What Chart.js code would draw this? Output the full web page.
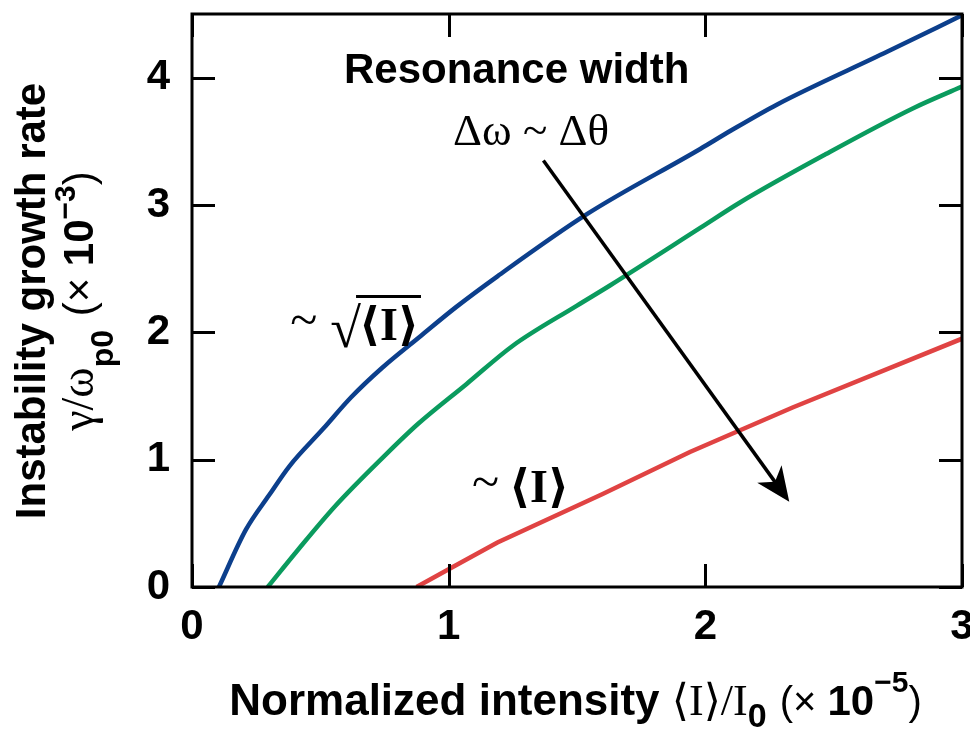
<!DOCTYPE html>
<html><head><meta charset="utf-8">
<script src="https://cdn.jsdelivr.net/npm/chart.js@4/dist/chart.umd.min.js"></script>
<style>html,body{margin:0;padding:0;background:#fff}canvas{display:block}</style>
</head><body>
<canvas id="c" width="970" height="733"></canvas>
<script>
// ---- data ----
const xTicks = [0, 1, 2, 3];
const yTicks = [0, 1, 2, 3, 4];
const xTickLabels = ['0', '1', '2', '3'];
const yTickLabels = ['0', '1', '2', '3', '4'];

const blueX = [0.105, 0.21, 0.30, 0.38, 0.51, 0.62, 0.74, 0.89, 1.03, 1.19, 1.54, 1.98, 2.10, 2.28, 2.71, 3.00];
const blueY = [0.00, 0.45, 0.72, 0.95, 1.24, 1.49, 1.72, 1.97, 2.20, 2.44, 2.93, 3.44, 3.585, 3.79, 4.205, 4.49];

const greenX = [0.295, 0.41, 0.56, 0.75, 0.88, 1.07, 1.25, 1.50, 1.63, 1.98, 2.135, 2.47, 2.81, 3.00];
const greenY = [0.00, 0.285, 0.64, 1.03, 1.28, 1.595, 1.895, 2.21, 2.37, 2.82, 3.02, 3.40, 3.76, 3.93];

const redX = [0.875, 1.00, 1.19, 1.60, 1.94, 2.34, 3.00];
const redY = [0.00, 0.14, 0.35, 0.73, 1.06, 1.41, 1.95];

// ---- style ----
const SANS = '"Liberation Sans", Arial, Helvetica, sans-serif';
const SERIF = '"Liberation Serif", "Times New Roman", "DejaVu Serif", serif';
const toPts = (xs, ys) => xs.map((x, i) => ({x, y: ys[i]}));

// annotation anchors in data coordinates
const arrowFrom = {x: 1.369, y: 3.35};
const arrowTo = {x: 2.327, y: 0.67};
const resTitleAt = {x: 1.265, y: 3.955};
const deltaAt = {x: 1.321, y: 3.475};
const sqrtAt = {x: 0.383, y: 1.94};
const linAt = {x: 1.091, y: 0.666};

function runsWidth(ctx, runs) {
  let w = 0;
  for (const r of runs) { ctx.font = r.font; w += ctx.measureText(r.text).width + (r.after || 0); }
  return w;
}
function drawRuns(ctx, runs, x, y) {
  let cx = x;
  for (const r of runs) {
    ctx.font = r.font;
    ctx.fillText(r.text, cx, y + (r.dy || 0));
    cx += ctx.measureText(r.text).width + (r.after || 0);
  }
  return cx;
}

const decor = {
  id: 'decor',
  afterDraw(chart) {
    const ctx = chart.ctx;
    const a = chart.chartArea;
    const xs = chart.scales.x, ys = chart.scales.y;
    ctx.save();
    ctx.strokeStyle = '#000';
    ctx.fillStyle = '#000';
    // frame
    ctx.lineWidth = 3;
    ctx.strokeRect(a.left, a.top, a.right - a.left, a.bottom - a.top);
    // inward ticks
    const TL = 23;
    ctx.beginPath();
    for (const v of xTicks) {
      const px = Math.round(xs.getPixelForValue(v)) + 0.5;
      ctx.moveTo(px, a.bottom); ctx.lineTo(px, a.bottom - TL);
      ctx.moveTo(px, a.top); ctx.lineTo(px, a.top + TL);
    }
    for (const v of yTicks) {
      const py = Math.round(ys.getPixelForValue(v)) + 0.5;
      ctx.moveTo(a.left, py); ctx.lineTo(a.left + TL, py);
      ctx.moveTo(a.right, py); ctx.lineTo(a.right - TL, py);
    }
    ctx.stroke();

    // arrow
    const x0 = xs.getPixelForValue(arrowFrom.x), y0 = ys.getPixelForValue(arrowFrom.y);
    const x1 = xs.getPixelForValue(arrowTo.x), y1 = ys.getPixelForValue(arrowTo.y);
    const len = Math.hypot(x1 - x0, y1 - y0);
    const dx = (x1 - x0) / len, dy = (y1 - y0) / len;
    const nx = -dy, ny = dx;
    const L = 34, W = 15;
    ctx.lineWidth = 3.5;
    ctx.beginPath();
    ctx.moveTo(x0, y0);
    ctx.lineTo(x1 - dx * L * 0.7, y1 - dy * L * 0.7);
    ctx.stroke();
    ctx.beginPath();
    ctx.moveTo(x1, y1);
    ctx.lineTo(x1 - dx * L + nx * W, y1 - dy * L + ny * W);
    ctx.lineTo(x1 - dx * L * 0.72, y1 - dy * L * 0.72);
    ctx.lineTo(x1 - dx * L - nx * W, y1 - dy * L - ny * W);
    ctx.closePath();
    ctx.fill();

    // "Resonance width"
    ctx.textBaseline = 'alphabetic';
    ctx.textAlign = 'center';
    ctx.font = 'bold 42px ' + SANS;
    ctx.fillText('Resonance width', xs.getPixelForValue(resTitleAt.x), ys.getPixelForValue(resTitleAt.y));
    ctx.font = '45px ' + SERIF;
    ctx.fillText('\u0394\u03c9 ~ \u0394\u03b8', xs.getPixelForValue(deltaAt.x), ys.getPixelForValue(deltaAt.y));

    // ~ sqrt<I>
    ctx.textAlign = 'left';
    {
      const bx = xs.getPixelForValue(sqrtAt.x), by = ys.getPixelForValue(sqrtAt.y);
      ctx.font = '50px ' + SERIF;
      ctx.fillText('~', bx, by - 4);
      let cx = bx + 40;
      ctx.font = 'bold 56px ' + SERIF;
      ctx.fillText('\u221a', cx, by + 7);
      const rw = ctx.measureText('\u221a').width;
      cx += rw - 2;
      ctx.font = 'bold 46px ' + SERIF;
      ctx.fillText('\u27e8I\u27e9', cx, by);
      const iw = ctx.measureText('\u27e8I\u27e9').width;
      ctx.lineWidth = 3;
      ctx.beginPath();
      ctx.moveTo(cx - 3, by - 43.5);
      ctx.lineTo(cx + iw + 2, by - 43.5);
      ctx.stroke();
    }
    // ~ <I>
    {
      const bx = xs.getPixelForValue(linAt.x), by = ys.getPixelForValue(linAt.y);
      ctx.font = '50px ' + SERIF;
      ctx.fillText('~', bx, by - 4);
      ctx.font = 'bold 46px ' + SERIF;
      ctx.fillText('\u27e8I\u27e9', bx + 37, by);
    }

    // x-axis title (centered under reference extent)
    const xRuns = [
      {text: 'Normalized intensity ', font: 'bold 44px ' + SANS},
      {text: '\u27e8I\u27e9/I', font: '44px ' + SERIF},
      {text: '0', font: 'bold 34px ' + SANS, dy: 12, after: 2},
      {text: ' (', font: '40px ' + SANS},
      {text: '\u00d7 ', font: '40px ' + SANS},
      {text: '10', font: 'bold 42px ' + SANS},
      {text: '\u22125', font: 'bold 30px ' + SANS, dy: -23},
      {text: ')', font: '40px ' + SANS}
    ];
    const xw = runsWidth(ctx, xRuns);
    drawRuns(ctx, xRuns, 575.5 - xw / 2, 715);

    // y-axis title (two rotated lines, both centred)
    const yCenter = 301;
    ctx.save();
    ctx.translate(45, yCenter);
    ctx.rotate(-Math.PI / 2);
    ctx.textAlign = 'center';
    ctx.font = 'bold 42px ' + SANS;
    ctx.fillText('Instability growth rate', 0, 0);
    ctx.restore();

    const yRuns = [
      {text: '\u03b3/\u03c9', font: '46px ' + SERIF},
      {text: 'p0', font: 'bold 32px ' + SANS, dy: 20, after: 2},
      {text: ' (', font: '42px ' + SANS},
      {text: '\u00d7 ', font: '42px ' + SANS},
      {text: '10', font: 'bold 42px ' + SANS},
      {text: '\u22123', font: 'bold 30px ' + SANS, dy: -18},
      {text: ')', font: '42px ' + SANS}
    ];
    ctx.save();
    ctx.translate(93, yCenter);
    ctx.rotate(-Math.PI / 2);
    ctx.textAlign = 'left';
    const yw = runsWidth(ctx, yRuns);
    drawRuns(ctx, yRuns, -yw / 2, 0);
    ctx.restore();

    ctx.restore();
  }
};

function zeroPad(s) { s.paddingTop = 0; s.paddingBottom = 0; s.paddingLeft = 0; s.paddingRight = 0; }

new Chart(document.getElementById('c'), {
  type: 'line',
  data: {
    datasets: [
      {data: toPts(blueX, blueY), borderColor: '#0c3f8c', borderWidth: 4.5, pointRadius: 0, tension: 0.3, cubicInterpolationMode: 'monotone'},
      {data: toPts(greenX, greenY), borderColor: '#0a9b5e', borderWidth: 4.5, pointRadius: 0, tension: 0.3, cubicInterpolationMode: 'monotone'},
      {data: toPts(redX, redY), borderColor: '#e04343', borderWidth: 4.5, pointRadius: 0, tension: 0}
    ]
  },
  options: {
    responsive: false,
    animation: false,
    devicePixelRatio: 1,
    layout: {padding: {top: 14, right: 8, left: 0, bottom: 0}},
    plugins: {legend: {display: false}, tooltip: {enabled: false}},
    scales: {
      x: {
        type: 'linear', min: 0, max: 3,
        afterBuildTicks: s => { s.ticks = xTicks.map(v => ({value: v})); },
        afterFit: s => { s.height = 146; zeroPad(s); },
        grid: {display: false, drawTicks: false},
        border: {display: false},
        ticks: {
          color: '#000', padding: 15, maxRotation: 0,
          font: {family: SANS, size: 42, weight: 'bold'},
          callback: v => xTickLabels[xTicks.indexOf(v)]
        }
      },
      y: {
        type: 'linear', min: 0, max: 4.5,
        afterBuildTicks: s => { s.ticks = yTicks.map(v => ({value: v})); },
        afterFit: s => { s.width = 192; zeroPad(s); },
        grid: {display: false, drawTicks: false},
        border: {display: false},
        ticks: {
          color: '#000', padding: 22,
          font: {family: SANS, size: 42, weight: 'bold'},
          callback: v => yTickLabels[yTicks.indexOf(v)]
        }
      }
    }
  },
  plugins: [decor]
});
</script>
</body></html>
